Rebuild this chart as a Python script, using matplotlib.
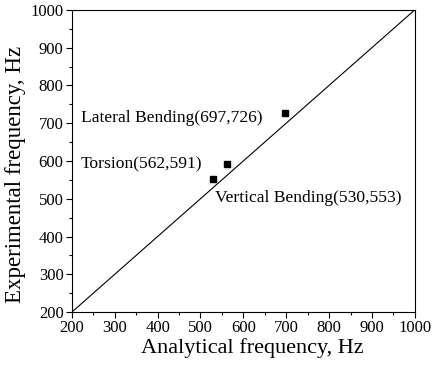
import matplotlib
matplotlib.use('Agg')
import matplotlib.pyplot as plt
from matplotlib.ticker import MultipleLocator

# analytical vs experimental frequencies (Hz)
modes = ['Vertical Bending', 'Torsion', 'Lateral Bending']
analytical = [530, 562, 697]
experimental = [553, 591, 726]
ref_line = [200, 1000]

plt.rcParams['font.family'] = ['Liberation Serif', 'DejaVu Serif']

fig = plt.figure(figsize=(4.33, 3.65), dpi=100)
ax = fig.add_axes([0.166, 0.145, 0.792, 0.828])

ax.plot(ref_line, ref_line, color='black', lw=0.8)
ax.plot(analytical, experimental, 's', color='black', ms=5)

# labels placed beside the points like the original
ax.text(221, 714, f'{modes[2]}({analytical[2]},{experimental[2]})', fontsize=12.6, va='center')
ax.text(221, 590, f'{modes[1]}({analytical[1]},{experimental[1]})', fontsize=12.6, va='center')
ax.text(533, 502, f'{modes[0]}({analytical[0]},{experimental[0]})', fontsize=12.6, va='center')

ax.set_xlim(200, 1000)
ax.set_ylim(200, 1000)
ax.xaxis.set_major_locator(MultipleLocator(100))
ax.yaxis.set_major_locator(MultipleLocator(100))
ax.xaxis.set_minor_locator(MultipleLocator(50))
ax.yaxis.set_minor_locator(MultipleLocator(50))
ax.tick_params(which='major', direction='out', length=4, width=0.8, labelsize=12, pad=2)
ax.tick_params(which='minor', direction='out', length=2, width=0.8)
ax.set_xlabel('Analytical frequency, Hz', fontsize=16)
ax.set_ylabel('Experimental frequency, Hz', fontsize=16.5)
ax.xaxis.set_label_coords(0.525, -0.085)
ax.yaxis.set_label_coords(-0.135, 0.455)

fig.savefig('out.png', dpi=100)
